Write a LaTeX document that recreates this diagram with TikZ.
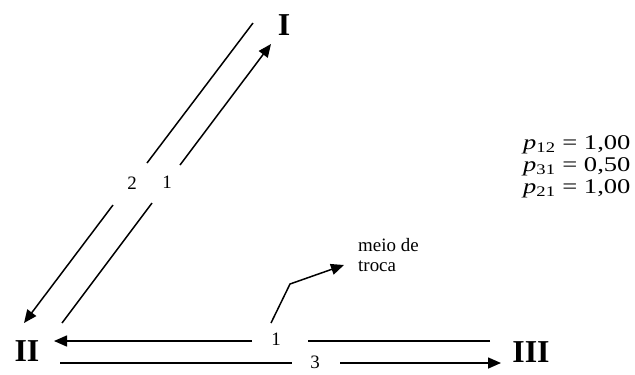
\documentclass[tikz,border=0pt]{standalone}
\usepackage{fontspec}
\usepackage{graphicx}
\setmainfont{Liberation Serif}
\usetikzlibrary{arrows.meta}
\tikzset{
  conn/.style={line width=1.5bp, draw=black},
  arr/.style={conn, -{Triangle[length=13bp,width=11bp]}},
  roman/.style={font=\fontsize{32}{34}\selectfont\bfseries, inner sep=0pt},
  small/.style={font=\fontsize{19}{21}\selectfont, inner sep=0pt},
  eqs/.style={font=\fontsize{21}{23}\selectfont, inner sep=0pt, anchor=base west}
}
\newcommand{\eqline}[2]{\scalebox{1.27}[1]{\textit{p}\textsubscript{#1} = #2}}
\begin{document}
\begin{tikzpicture}[x=1bp, y=-1bp]
\useasboundingbox (0,0) rectangle (635,374);
% main nodes
\node[roman] (I) at (284,25) {I};
\node[roman] (II) at (27,351) {II};
\node[roman] (III) at (531,352) {III};
% labels
\node[small] (l2) at (132,183) {2};
\node[small] (l1d) at (167,182) {1};
\node[small] (l1h) at (276,339) {1};
\node[small] (l3) at (315,362) {3};
\node[small, align=left, anchor=west] (meio) at (358,255) {meio de\\troca};
% equations
\node[eqs] (eq1) at (523,149) {\eqline{12}{1,00}};
\node[eqs] (eq2) at (523,171) {\eqline{31}{0,50}};
\node[eqs] (eq3) at (523,193) {\eqline{21}{1,00}};
% coordinates
\coordinate (a1s) at (62,323);
\coordinate (a1g) at (152,203);
\coordinate (a1h) at (180,165);
\coordinate (a1e) at (271,44);
\coordinate (a2s) at (253,23);
\coordinate (a2g) at (147,163);
\coordinate (a2h) at (113,205);
\coordinate (a2e) at (24,323);
\coordinate (h1s) at (490,341);
\coordinate (h1g) at (308,341);
\coordinate (h1h) at (252,341);
\coordinate (h1e) at (54,341);
\coordinate (h3s) at (60,363);
\coordinate (h3g) at (292,363);
\coordinate (h3h) at (340,363);
\coordinate (h3e) at (501,363);
\coordinate (m0) at (271,323);
\coordinate (m1) at (290,284);
\coordinate (m2) at (344,265);
% connectors
\draw[conn] (a1s) -- (a1g);
\draw[arr] (a1h) -- (a1e);
\draw[conn] (a2s) -- (a2g);
\draw[arr] (a2h) -- (a2e);
\draw[conn] (h1s) -- (h1g);
\draw[arr] (h1h) -- (h1e);
\draw[conn] (h3s) -- (h3g);
\draw[arr] (h3h) -- (h3e);
\draw[arr] (m0) -- (m1) -- (m2);
\end{tikzpicture}
\end{document}
